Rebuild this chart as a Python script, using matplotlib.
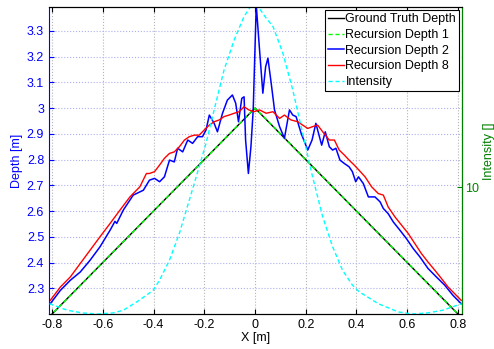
import matplotlib
matplotlib.use("Agg")
import matplotlib.pyplot as plt
from matplotlib.ticker import NullLocator, FixedLocator, FixedFormatter

plt.rcParams["font.family"] = ["Liberation Sans", "DejaVu Sans"]

# ground truth / recursion depth 1 (triangle)
gt_x = [-0.812, 0.0, 0.818]
gt_y = [2.188, 3.0, 2.182]

# recursion depth 2
rd2_x = [-0.807, -0.767, -0.728, -0.689, -0.650, -0.611, -0.571, -0.552, -0.545, -0.519,
         -0.480, -0.440, -0.416, -0.396, -0.376, -0.357, -0.337, -0.318, -0.305, -0.285,
         -0.265, -0.246, -0.226, -0.207, -0.193, -0.180, -0.161, -0.148, -0.128, -0.109,
         -0.089, -0.076, -0.065, -0.052, -0.043, -0.037, -0.026, -0.016, -0.007, 0.005,
         0.018, 0.031, 0.042, 0.051, 0.064, 0.077, 0.097, 0.116, 0.136, 0.149,
         0.162, 0.182, 0.208, 0.225, 0.240, 0.254, 0.263, 0.277, 0.293, 0.306,
         0.319, 0.335, 0.352, 0.371, 0.384, 0.397, 0.408, 0.427, 0.447, 0.473,
         0.493, 0.506, 0.525, 0.545, 0.571, 0.597, 0.624, 0.650, 0.682, 0.715,
         0.748, 0.780, 0.813]
rd2_y = [2.240, 2.292, 2.331, 2.363, 2.409, 2.461, 2.526, 2.560, 2.552, 2.604,
         2.662, 2.681, 2.720, 2.727, 2.714, 2.733, 2.798, 2.791, 2.844, 2.830,
         2.876, 2.863, 2.889, 2.889, 2.915, 2.973, 2.941, 2.908, 2.980, 3.031,
         3.051, 3.019, 2.947, 3.038, 3.044, 2.876, 2.746, 2.850, 2.993, 3.400,
         3.226, 3.058, 3.161, 3.194, 3.096, 2.993, 2.928, 2.883, 2.993, 2.973,
         2.967, 2.902, 2.837, 2.876, 2.941, 2.889, 2.856, 2.908, 2.850, 2.837,
         2.844, 2.798, 2.785, 2.772, 2.753, 2.714, 2.733, 2.707, 2.655, 2.655,
         2.636, 2.610, 2.590, 2.558, 2.526, 2.493, 2.454, 2.422, 2.377, 2.344,
         2.312, 2.273, 2.240]

# recursion depth 8
rd8_x = [-0.807, -0.767, -0.728, -0.689, -0.650, -0.611, -0.571, -0.532, -0.493, -0.454,
         -0.428, -0.416, -0.396, -0.376, -0.357, -0.337, -0.318, -0.298, -0.278, -0.259,
         -0.239, -0.220, -0.200, -0.180, -0.161, -0.141, -0.122, -0.102, -0.082, -0.063,
         -0.043, -0.024, -0.004, 0.018, 0.044, 0.071, 0.097, 0.116, 0.142, 0.169,
         0.188, 0.208, 0.227, 0.247, 0.267, 0.293, 0.313, 0.332, 0.352, 0.371,
         0.391, 0.410, 0.434, 0.460, 0.486, 0.506, 0.525, 0.552, 0.578, 0.604,
         0.630, 0.656, 0.682, 0.709, 0.735, 0.761, 0.787, 0.813]
rd8_y = [2.253, 2.305, 2.344, 2.396, 2.448, 2.500, 2.552, 2.604, 2.655, 2.694,
         2.746, 2.746, 2.753, 2.779, 2.805, 2.824, 2.830, 2.850, 2.876, 2.889,
         2.895, 2.895, 2.915, 2.934, 2.947, 2.954, 2.967, 2.973, 2.980, 2.986,
         3.005, 2.993, 2.986, 2.993, 2.980, 2.986, 2.960, 2.973, 2.954, 2.947,
         2.934, 2.921, 2.928, 2.934, 2.908, 2.876, 2.876, 2.837, 2.818, 2.798,
         2.779, 2.759, 2.733, 2.694, 2.668, 2.662, 2.616, 2.577, 2.545, 2.513,
         2.474, 2.435, 2.402, 2.370, 2.338, 2.305, 2.279, 2.253]

# intensity (right, log axis)
int_x = [-0.810, -0.740, -0.680, -0.620, -0.560, -0.519, -0.460, -0.401, -0.376, -0.337,
         -0.298, -0.259, -0.220, -0.193, -0.161, -0.122, -0.082, -0.043, -0.020, 0.0,
         0.020, 0.043, 0.071, 0.110, 0.149, 0.188, 0.227, 0.267, 0.306, 0.345,
         0.384, 0.410, 0.486, 0.565, 0.620, 0.680, 0.740, 0.815]
int_y = [3.52, 3.32, 3.24, 3.21, 3.24, 3.32, 3.61, 3.97, 4.35, 5.20,
         6.61, 8.89, 11.99, 14.79, 19.95, 28.51, 37.33, 46.03, 49.8, 50.9,
         49.0, 45.5, 42.07, 33.11, 23.82, 16.18, 10.96, 7.66, 5.86, 4.75,
         4.16, 3.92, 3.52, 3.27, 3.21, 3.24, 3.32, 3.52]

x_ticks = [-0.8, -0.6, -0.4, -0.2, 0, 0.2, 0.4, 0.6, 0.8]
x_labels = ["-0.8", "-0.6", "-0.4", "-0.2", "0", "0.2", "0.4", "0.6", "0.8"]
y_ticks = [2.3, 2.4, 2.5, 2.6, 2.7, 2.8, 2.9, 3.0, 3.1, 3.2, 3.3]
y_labels = ["2.3", "2.4", "2.5", "2.6", "2.7", "2.8", "2.9", "3", "3.1", "3.2", "3.3"]

blue = "#0000ff"
dgreen = "#008000"

fig = plt.figure(figsize=(4.94, 3.49), dpi=100)
ax = fig.add_axes([0.0992, 0.1003, 0.837, 0.8797])

l1, = ax.plot(gt_x, gt_y, color="black", linewidth=1.0)
l2, = ax.plot(gt_x, gt_y, color="#00ff00", linestyle="--", dashes=(3, 2), linewidth=1.0)
l3, = ax.plot(rd2_x, rd2_y, color=blue, linewidth=1.1)
l4, = ax.plot(rd8_x, rd8_y, color="#ff0000", linewidth=1.0)

ax.set_xlim(-0.812, 0.818)
ax.set_ylim(2.2, 3.393)
ax.set_xticks(x_ticks)
ax.set_xticklabels(x_labels)
ax.set_yticks(y_ticks)
ax.set_yticklabels(y_labels)

ax.xaxis.grid(True, linestyle=":", color="#b4b4b4", linewidth=0.8)
ax.yaxis.grid(True, linestyle=":", color="#b0b0f0", linewidth=0.8)

ax.tick_params(axis="x", direction="in", top=True, length=3.5, labelsize=9, colors="black")
ax.tick_params(axis="y", direction="in", right=True, length=3.5, labelsize=9,
               colors=blue)
ax.spines["left"].set_color(blue)
ax.set_xlabel("X [m]", fontsize=9, labelpad=1)
ax.set_ylabel("Depth [m]", fontsize=9, color=blue, labelpad=3)

ax2 = ax.twinx()
l5, = ax2.plot(int_x, int_y, color="#00ffff", linestyle="--", dashes=(3, 2), linewidth=1.0)
ax2.set_yscale("log")
ax2.set_ylim(3.21, 50.1)
ax2.yaxis.set_major_locator(FixedLocator([10]))
ax2.yaxis.set_major_formatter(FixedFormatter(["10"]))
ax2.yaxis.set_minor_locator(NullLocator())
ax2.tick_params(axis="y", direction="in", length=3.5, pad=2, labelsize=9, colors=dgreen)
ax2.spines["right"].set_color(dgreen)
ax2.spines["left"].set_visible(False)
ax2.set_ylabel("Intensity []", fontsize=9, color=dgreen)
ax2.yaxis.set_label_coords(1.05, 0.53)

leg = ax2.legend([l1, l2, l3, l4, l5],
                 ["Ground Truth Depth", "Recursion Depth 1", "Recursion Depth 2",
                  "Recursion Depth 8", "Intensity"],
                 loc="upper right", fontsize=9, fancybox=False, framealpha=1,
                 edgecolor="black", borderaxespad=0.25, borderpad=0.25,
                 handlelength=1.3, handletextpad=0.1, labelspacing=0.3)
leg.get_frame().set_linewidth(0.8)

fig.savefig("out.png", dpi=100)
